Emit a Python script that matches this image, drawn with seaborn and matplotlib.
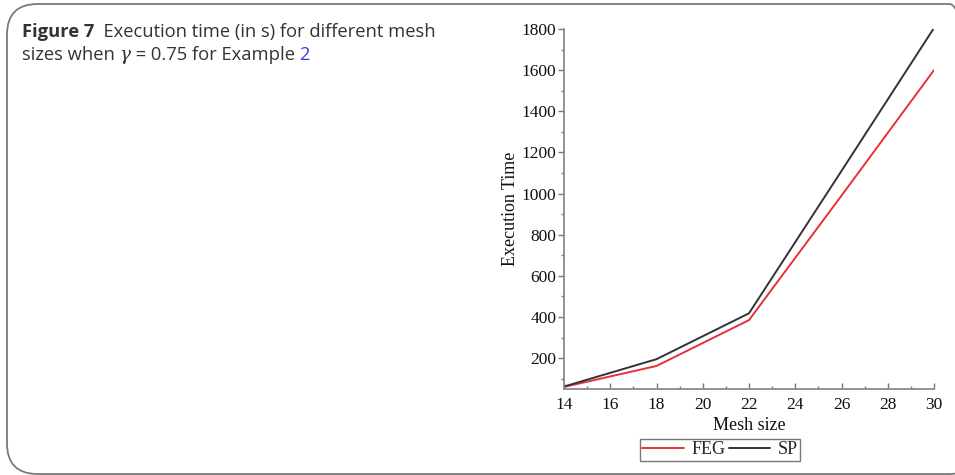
import numpy as np
import pandas as pd
import matplotlib
matplotlib.use("Agg")
import matplotlib.pyplot as plt
from matplotlib.patches import FancyBboxPatch
from matplotlib.ticker import MultipleLocator
import seaborn as sns

# data
mesh_size = [14, 18, 22, 26, 30]
feg_time = [60, 162, 385, 990, 1600]
sp_time = [62, 195, 418, 1110, 1805]
methods = ["FEG", "SP"]
colors = {"FEG": "#e8303a", "SP": "#333333"}
y_ticks = [200, 400, 600, 800, 1000, 1200, 1400, 1600, 1800]
x_ticks = [14, 16, 18, 20, 22, 24, 26, 28, 30]

df = pd.DataFrame({
    "Mesh size": mesh_size * 2,
    "Execution Time": feg_time + sp_time,
    "method": ["FEG"] * len(mesh_size) + ["SP"] * len(mesh_size),
})

sns.set_style("white")
W, H = 955, 475
fig = plt.figure(figsize=(W / 100, H / 100), dpi=100)

# rounded frame around the figure panel
frame = FancyBboxPatch((7 / W, 1 - 474 / H), (980 - 7) / W, (474 - 4) / H,
                       boxstyle="round,pad=0,rounding_size=0.032",
                       transform=fig.transFigure, fill=False,
                       edgecolor="#7a7a7a", linewidth=1.3, mutation_aspect=W / H)
fig.patches.append(frame)

# caption
cap_font = "Open Sans"
cap_size = 13.2
cap_col = "#333333"


def put_run(x_px, y_px, parts):
    renderer = fig.canvas.get_renderer()
    x = x_px
    for txt, kw in parts:
        opts = dict(fontsize=cap_size, color=cap_col, family=cap_font)
        opts.update(kw)
        t = fig.text(x / W, 1 - y_px / H, txt, **opts)
        bb = t.get_window_extent(renderer=renderer)
        x += bb.width
    return x


put_run(22, 37, [("Figure 7", {"weight": "bold"}),
                 ("  Execution time (in s) for different mesh", {})])
put_run(22, 60, [("sizes when ", {}),
                 ("γ", {"style": "italic", "family": "DejaVu Serif"}),
                 (" = 0.75 for Example ", {}),
                 ("2", {"color": "#3a3ad8"})])

# chart
ax = fig.add_axes([564 / W, 1 - 389 / H, 370 / W, 360 / H])
sns.lineplot(data=df, x="Mesh size", y="Execution Time", hue="method",
             palette=colors, linewidth=1.4, ax=ax, legend=False)

ax.set_xlim(14, 30)
ax.set_ylim(50, 1800)
ax.set_xticks(x_ticks)
ax.set_yticks(y_ticks)
ax.xaxis.set_minor_locator(MultipleLocator(1))
ax.yaxis.set_minor_locator(MultipleLocator(100))

serif = "Liberation Serif"
for lab in ax.get_xticklabels() + ax.get_yticklabels():
    lab.set_family(serif)
    lab.set_fontsize(12.5)
    lab.set_color("#111111")

ax.tick_params(axis="y", which="major", direction="out", length=4.5, width=1, color="#777777", pad=1)
ax.tick_params(axis="y", which="minor", direction="out", length=2.5, width=1, color="#777777")
ax.tick_params(axis="x", which="major", direction="in", length=4, width=1, color="#777777", pad=6)
ax.tick_params(axis="x", which="minor", direction="in", length=2.5, width=1, color="#777777")
ax.tick_params(left=True, bottom=True, which="both")

for side in ["top", "right"]:
    ax.spines[side].set_visible(False)
for side in ["left", "bottom"]:
    ax.spines[side].set_color("#8a8a8a")
    ax.spines[side].set_linewidth(1.3)

ax.set_xlabel("Mesh size", family=serif, fontsize=13, color="#111111", labelpad=2.5)
ax.set_ylabel("Execution Time", family=serif, fontsize=13, color="#111111", labelpad=2)

handles = [plt.Line2D([], [], color=colors[m], linewidth=1.4) for m in methods]
leg = fig.legend(handles, methods, loc="center", bbox_to_anchor=(720 / W, 1 - 450 / H),
                 ncol=2, frameon=True, fancybox=False, handlelength=2.3,
                 handletextpad=0.4, columnspacing=0.2, borderpad=0.15,
                 prop={"family": serif, "size": 13})
leg.get_frame().set_edgecolor("#555555")
leg.get_frame().set_linewidth(1.0)

fig.savefig("out.png", dpi=100)
